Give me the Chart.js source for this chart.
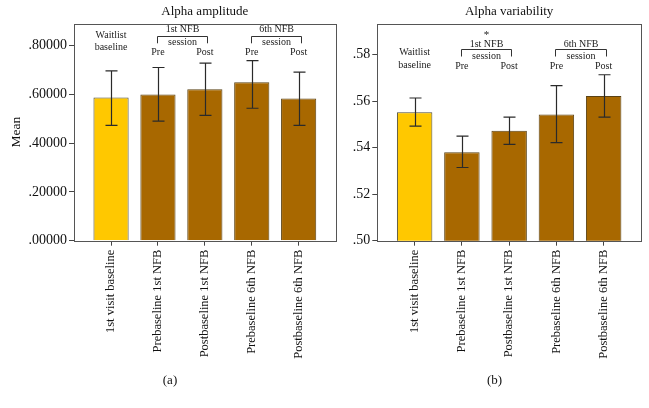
<!DOCTYPE html>
<html>
<head>
<meta charset="utf-8">
<script src="https://cdn.jsdelivr.net/npm/chart.js@4.4.0/dist/chart.umd.min.js"></script>
<style>
  html, body { margin: 0; padding: 0; background: #fff; }
  #wrap { position: relative; width: 649px; height: 408px; }
  #c1 { position: absolute; left: 0; top: 0; }
  #c2 { position: absolute; left: 340px; top: 0; }
</style>
</head>
<body>
<div id="wrap">
  <canvas id="c1" width="340" height="408" style="width:340px;height:408px"></canvas>
  <canvas id="c2" width="309" height="408" style="width:309px;height:408px"></canvas>
</div>
<script>
// ---- data ----
const categories = ['1st visit baseline', 'Prebaseline 1st NFB', 'Postbaseline 1st NFB', 'Prebaseline 6th NFB', 'Postbaseline 6th NFB'];
const ampMean = [0.587, 0.599, 0.621, 0.650, 0.583];
const ampLow  = [0.473, 0.490, 0.514, 0.543, 0.473];
const ampHigh = [0.696, 0.710, 0.728, 0.738, 0.691];
const varMean = [0.5553, 0.5381, 0.5473, 0.5543, 0.5622];
const varLow  = [0.5493, 0.5315, 0.5414, 0.5422, 0.5532];
const varHigh = [0.5614, 0.5450, 0.5532, 0.5667, 0.5714];
const ampTicks = [0, 0.2, 0.4, 0.6, 0.8];
const varTicks = [0.50, 0.52, 0.54, 0.56, 0.58];

const SERIF = '"Liberation Serif", "DejaVu Serif", serif';
const barFill = ['#FFC800', '#A86800', '#A86800', '#A86800', '#A86800'];
const barEdge = ['#4a4a3a', '#5a4215', '#5a4215', '#5a4215', '#5a4215'];

const extrasPlugin = {
  id: 'extras',
  afterDatasetsDraw(chart, args, o) {
    const ctx = chart.ctx, xs = chart.scales.x, ys = chart.scales.y, ca = chart.chartArea;
    ctx.save();
    // error bars
    ctx.strokeStyle = '#2a2a2a';
    ctx.lineWidth = 1.2;
    o.low.forEach((lo, i) => {
      const x = Math.round(xs.getPixelForValue(i)) + 0.5;
      const y1 = ys.getPixelForValue(lo), y2 = ys.getPixelForValue(o.high[i]);
      ctx.beginPath();
      ctx.moveTo(x, y1); ctx.lineTo(x, y2);
      ctx.moveTo(x - 6, y1); ctx.lineTo(x + 6, y1);
      ctx.moveTo(x - 6, y2); ctx.lineTo(x + 6, y2);
      ctx.stroke();
    });
    // frame
    ctx.strokeStyle = '#555';
    ctx.lineWidth = 1;
    ctx.strokeRect(Math.round(ca.left) + 0.5, Math.round(ca.top) + 0.5, Math.round(ca.right - ca.left), Math.round(ca.bottom - ca.top));
    // annotations
    const a = o.ann, top = ca.top;
    ctx.fillStyle = '#222';
    ctx.textAlign = 'center';
    ctx.textBaseline = 'middle';
    ctx.font = '10px ' + SERIF;
    const x0 = xs.getPixelForValue(0);
    ctx.fillText('Waitlist', x0, top + a.wait[0]);
    ctx.fillText('baseline', x0, top + a.wait[1]);
    ctx.strokeStyle = '#333';
    ctx.lineWidth = 1;
    a.brackets.forEach(b => {
      const xa = Math.round(xs.getPixelForValue(b.i0)) - 1 + 0.5;
      const xb = Math.round(xs.getPixelForValue(b.i1)) + 2 + 0.5;
      const ly = Math.round(top + a.line) + 0.5;
      ctx.beginPath();
      ctx.moveTo(xa, top + a.drop); ctx.lineTo(xa, ly); ctx.lineTo(xb, ly); ctx.lineTo(xb, top + a.drop);
      ctx.stroke();
      const xm = (xa + xb) / 2;
      ctx.fillText(b.label, xm, top + a.label);
      ctx.fillText('session', xm, top + a.session);
      ctx.fillText('Pre', xs.getPixelForValue(b.i0), top + a.prepost);
      ctx.fillText('Post', xs.getPixelForValue(b.i1), top + a.prepost);
      if (b.star) {
        ctx.font = '11px ' + SERIF;
        ctx.fillText('*', xm, top + a.star);
        ctx.font = '10px ' + SERIF;
      }
    });
    // caption
    ctx.font = '13px ' + SERIF;
    ctx.fillStyle = '#111';
    ctx.fillText(o.caption, chart.width / 2, 381);
    ctx.restore();
  }
};

function makeChart(id, cfg) {
  return new Chart(document.getElementById(id), {
    type: 'bar',
    data: {
      datasets: [{
        data: cfg.mean.map((v, i) => ({ x: i, y: v })),
        backgroundColor: barFill,
        borderColor: barEdge,
        borderWidth: 1,
        categoryPercentage: 1,
        barPercentage: 0.75
      }]
    },
    options: {
      responsive: false,
      animation: false,
      devicePixelRatio: 1,
      layout: { padding: { left: 0, right: cfg.padRight, top: 0, bottom: 0 } },
      plugins: {
        legend: { display: false },
        tooltip: { enabled: false },
        title: {
          display: true, text: cfg.title, fullSize: false, color: '#111',
          font: { family: SERIF, size: 13, weight: 'normal' },
          padding: { top: 4, bottom: 4 }
        },
        extras: { low: cfg.low, high: cfg.high, ann: cfg.ann, caption: cfg.caption }
      },
      scales: {
        x: {
          type: 'linear', min: -0.79, max: 4.79, offset: false,
          afterBuildTicks: s => { s.ticks = categories.map((c, i) => ({ value: i })); },
          afterFit: s => { s.height = 408 - 240.7; },
          border: { display: false },
          grid: { offset: false, drawOnChartArea: false, drawTicks: true, tickLength: 5, color: '#444' },
          ticks: {
            autoSkip: false, minRotation: 90, maxRotation: 90, padding: 4,
            color: '#111', font: { family: SERIF, size: 12.5 },
            callback: v => categories[v]
          }
        },
        y: {
          min: cfg.min, max: cfg.max,
          afterBuildTicks: s => { s.ticks = cfg.ticks.map(v => ({ value: v })); },
          afterFit: s => { s.width = cfg.yWidth; },
          border: { display: false },
          grid: { drawOnChartArea: false, drawTicks: true, tickLength: 5, color: '#444' },
          ticks: {
            padding: 2, color: '#111', font: { family: SERIF, size: 14 },
            callback: v => v.toFixed(cfg.dec).replace(/^0/, '')
          },
          title: {
            display: cfg.yTitle !== '', text: cfg.yTitle, color: '#111',
            font: { family: SERIF, size: 13.5 }, padding: { top: 8, bottom: 0 }
          }
        }
      }
    },
    plugins: [extrasPlugin]
  });
}

makeChart('c1', {
  title: 'Alpha amplitude', mean: ampMean, low: ampLow, high: ampHigh,
  min: 0, max: 0.89, ticks: ampTicks, dec: 5, yWidth: 74, padRight: 4.3, yTitle: 'Mean', caption: '(a)',
  ann: { wait: [11.4, 23.7], line: 12.4, label: 6, session: 19, prepost: 28.7, drop: 19.7, star: 0,
         brackets: [{ i0: 1, i1: 2, label: '1st NFB' }, { i0: 3, i1: 4, label: '6th NFB' }] }
});
makeChart('c2', {
  title: 'Alpha variability', mean: varMean, low: varLow, high: varHigh,
  min: 0.50, max: 0.5934, ticks: varTicks, dec: 2, yWidth: 37.3, padRight: 8, yTitle: '', caption: '(b)',
  ann: { wait: [29.1, 41.7], line: 25.4, label: 20.4, session: 32.4, prepost: 42.4, drop: 32.9, star: 11.4,
         brackets: [{ i0: 1, i1: 2, label: '1st NFB', star: true }, { i0: 3, i1: 4, label: '6th NFB' }] }
});
</script>
</body>
</html>
